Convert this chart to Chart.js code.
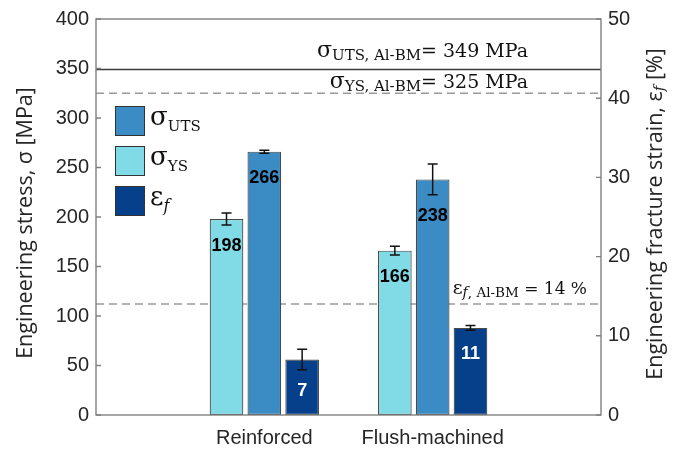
<!DOCTYPE html>
<html>
<head>
<meta charset="utf-8">
<script src="https://cdn.jsdelivr.net/npm/chart.js@4.4.1/dist/chart.umd.min.js"></script>
<style>
  html, body { margin: 0; padding: 0; background: #fff; }
  #wrap { width: 686px; height: 451px; }
</style>
</head>
<body>
<div id="wrap"><canvas id="c"></canvas></div>
<script>
// Joint types on the x axis
const categories = ['Reinforced', 'Flush-machined'];

// Yield strength σYS [MPa] with its scatter
const yieldStress = [198, 166];
const yieldErr = [6, 4.5];

// Ultimate tensile strength σUTS [MPa] with its scatter
const ultimateStress = [266, 238];
const ultimateErr = [1.5, 15.5];

// Fracture strain εf [%] with its scatter (right axis)
const fractureStrain = [7, 11];
const fractureErr = [1.3, 0.3];

// Axis ticks
const stressTicks = [0, 50, 100, 150, 200, 250, 300, 350, 400];
const strainTicks = [0, 10, 20, 30, 40, 50];

// Base-metal reference levels
const bmUTS = 349;   // MPa
const bmYS = 325;    // MPa
const bmStrain = 14; // %

const COL_YS = '#80dbe6';
const COL_UTS = '#3b8bc4';
const COL_EF = '#06408a';
const AXIS_COL = '#808080';
const TEXT_COL = '#262626';
const SANS = '"Liberation Sans", Arial, sans-serif';
const SERIF = '"DejaVu Serif", serif';
const TITLE = '"Open Sans", sans-serif';

const points = arr => arr.map((v, i) => ({ x: i + 1, y: v }));

// Draws a run of differently-styled text pieces; returns total width.
function textRun(ctx, parts, x, y, draw) {
  let w = 0;
  for (const p of parts) {
    ctx.font = p.f;
    if (draw) ctx.fillText(p.t, x + w, y + (p.dy || 0));
    w += ctx.measureText(p.t).width;
  }
  return w;
}

const decor = {
  id: 'decor',
  beforeDatasetsDraw(chart) {
    const { ctx, chartArea: a, scales } = chart;
    const y = scales.y;
    ctx.save();
    // base-metal reference lines
    ctx.lineWidth = 1.5;
    ctx.strokeStyle = '#9a9a9a';
    ctx.setLineDash([8, 5]);
    const yEf = scales.y1.getPixelForValue(bmStrain);
    const yYs = y.getPixelForValue(bmYS);
    ctx.beginPath();
    ctx.moveTo(a.left, yEf); ctx.lineTo(a.right, yEf);
    ctx.moveTo(a.left, yYs); ctx.lineTo(a.right, yYs);
    ctx.stroke();
    ctx.setLineDash([]);
    ctx.strokeStyle = '#3a3a3a';
    const yUts = y.getPixelForValue(bmUTS);
    ctx.beginPath();
    ctx.moveTo(a.left, yUts); ctx.lineTo(a.right, yUts);
    ctx.stroke();
    ctx.restore();
  },
  afterDatasetsDraw(chart) {
    const { ctx, chartArea: a, scales } = chart;
    ctx.save();

    // error bars
    const sets = [
      { err: yieldErr, vals: yieldStress, scale: scales.y },
      { err: ultimateErr, vals: ultimateStress, scale: scales.y },
      { err: fractureErr, vals: fractureStrain, scale: scales.y1 }
    ];
    ctx.strokeStyle = '#111';
    ctx.lineWidth = 1.5;
    const lowPx = [];
    sets.forEach((s, di) => {
      const meta = chart.getDatasetMeta(di);
      lowPx[di] = [];
      meta.data.forEach((bar, j) => {
        const hi = s.scale.getPixelForValue(s.vals[j] + s.err[j]);
        const lo = s.scale.getPixelForValue(s.vals[j] - s.err[j]);
        lowPx[di][j] = lo;
        ctx.beginPath();
        ctx.moveTo(bar.x, hi); ctx.lineTo(bar.x, lo);
        ctx.moveTo(bar.x - 5, hi); ctx.lineTo(bar.x + 5, hi);
        ctx.moveTo(bar.x - 5, lo); ctx.lineTo(bar.x + 5, lo);
        ctx.stroke();
      });
    });

    // value labels inside the bars
    ctx.font = 'bold 18px ' + SANS;
    ctx.textAlign = 'center';
    ctx.textBaseline = 'middle';
    sets.forEach((s, di) => {
      const meta = chart.getDatasetMeta(di);
      meta.data.forEach((bar, j) => {
        const cy = Math.max(bar.y + 26, lowPx[di][j] + 21);
        ctx.fillStyle = di === 2 ? '#ffffff' : '#000000';
        ctx.fillText(String(s.vals[j]), bar.x, cy);
      });
    });

    // frame around the plot area with inward ticks
    ctx.strokeStyle = AXIS_COL;
    ctx.lineWidth = 1.4;
    ctx.strokeRect(a.left, a.top, a.right - a.left, a.bottom - a.top);
    ctx.beginPath();
    stressTicks.forEach(v => {
      const py = scales.y.getPixelForValue(v);
      ctx.moveTo(a.left, py); ctx.lineTo(a.left + 5, py);
    });
    strainTicks.forEach(v => {
      const py = scales.y1.getPixelForValue(v);
      ctx.moveTo(a.right, py); ctx.lineTo(a.right - 5, py);
    });
    ctx.stroke();

    // base-metal annotations
    ctx.textAlign = 'left';
    ctx.textBaseline = 'alphabetic';
    ctx.fillStyle = '#111';
    const annots = [
      { parts: [
          { t: 'σ', f: '22px ' + SERIF },
          { t: 'UTS, Al-BM', f: '15px ' + SERIF, dy: 3 },
          { t: '= ' + bmUTS + ' MPa', f: '19px ' + SERIF }],
        right: a.right - 73, base: scales.y.getPixelForValue(bmUTS) - 12 },
      { parts: [
          { t: 'σ', f: '22px ' + SERIF },
          { t: 'YS, Al-BM', f: '15px ' + SERIF, dy: 3 },
          { t: '= ' + bmYS + ' MPa', f: '19px ' + SERIF }],
        right: a.right - 73, base: scales.y.getPixelForValue(bmYS) - 5 },
      { parts: [
          { t: 'ε', f: '19px ' + SERIF },
          { t: 'f', f: 'italic 14px ' + SERIF, dy: 3 },
          { t: ', Al-BM', f: '13.5px ' + SERIF, dy: 3 },
          { t: ' = ' + bmStrain + ' %', f: '17px ' + SERIF }],
        right: a.right - 14, base: scales.y1.getPixelForValue(bmStrain) - 10 }
    ];
    annots.forEach(an => {
      const w = textRun(ctx, an.parts, 0, 0, false);
      textRun(ctx, an.parts, an.right - w, an.base, true);
    });

    // legend
    const legend = [
      { color: COL_UTS, parts: [{ t: 'σ', f: '26px ' + SERIF }, { t: 'UTS', f: '15px ' + SERIF, dy: 6 }] },
      { color: COL_YS, parts: [{ t: 'σ', f: '26px ' + SERIF }, { t: 'YS', f: '15px ' + SERIF, dy: 6 }] },
      { color: COL_EF, parts: [{ t: 'ε', f: '26px ' + SERIF }, { t: 'f', f: 'italic 16px ' + SERIF, dy: 6 }] }
    ];
    legend.forEach((it, k) => {
      const top = a.top + 87 + k * 40;
      ctx.fillStyle = it.color;
      ctx.fillRect(a.left + 19, top, 30, 30);
      ctx.strokeStyle = '#333';
      ctx.lineWidth = 1;
      ctx.strokeRect(a.left + 19.5, top + 0.5, 29, 29);
      ctx.fillStyle = '#111';
      textRun(ctx, it.parts, a.left + 54, top + 19, true);
    });

    // axis titles
    ctx.fillStyle = TEXT_COL;
    const leftTitle = [{ t: 'Engineering stress, σ [MPa]', f: '21.5px ' + TITLE }];
    const rightTitle = [
      { t: 'Engineering fracture strain, ε', f: '21.5px ' + TITLE },
      { t: 'f', f: 'italic 15px ' + SERIF, dy: 4 },
      { t: ' [%]', f: '21.5px ' + TITLE }
    ];
    ctx.textBaseline = 'middle';
    [[leftTitle, 26, 223], [rightTitle, 656, 214]].forEach(([parts, cx, cy]) => {
      const w = textRun(ctx, parts, 0, 0, false);
      ctx.save();
      ctx.translate(cx, cy);
      ctx.rotate(-Math.PI / 2);
      textRun(ctx, parts, -w / 2, 0, true);
      ctx.restore();
    });

    ctx.restore();
  }
};

const tickFont = { family: SANS, size: 20 };

new Chart(document.getElementById('c'), {
  type: 'bar',
  data: {
    datasets: [
      { label: 'σYS', data: points(yieldStress), backgroundColor: COL_YS, yAxisID: 'y' },
      { label: 'σUTS', data: points(ultimateStress), backgroundColor: COL_UTS, yAxisID: 'y' },
      { label: 'εf', data: points(fractureStrain), backgroundColor: COL_EF, yAxisID: 'y1' }
    ].map(d => Object.assign(d, {
      borderColor: '#4a4a4a',
      borderWidth: 1.2,
      borderSkipped: false,
      categoryPercentage: 0.674,
      barPercentage: 0.89
    }))
  },
  options: {
    responsive: true,
    maintainAspectRatio: false,
    animation: false,
    devicePixelRatio: 1,
    layout: { padding: { top: 18, left: 0, right: 0, bottom: 0 } },
    plugins: { legend: { display: false }, tooltip: { enabled: false } },
    scales: {
      x: {
        type: 'linear',
        offset: false,
        min: 0,
        max: categories.length + 1,
        grid: { display: false, drawTicks: false, offset: false },
        border: { display: false },
        afterBuildTicks: s => { s.ticks = categories.map((c, i) => ({ value: i + 1 })); },
        afterFit: s => { s.height = 36; },
        ticks: {
          font: tickFont, color: TEXT_COL, padding: 11, maxRotation: 0, autoSkip: false,
          callback: v => categories[v - 1] || ''
        }
      },
      y: {
        position: 'left',
        min: 0, max: 400,
        grid: { display: false, drawTicks: false },
        border: { display: false },
        afterBuildTicks: s => { s.ticks = stressTicks.map(v => ({ value: v })); },
        afterFit: s => { s.width = 96; },
        ticks: { font: tickFont, color: TEXT_COL, padding: 7 }
      },
      y1: {
        position: 'right',
        min: 0, max: 50,
        grid: { display: false, drawTicks: false },
        border: { display: false },
        afterBuildTicks: s => { s.ticks = strainTicks.map(v => ({ value: v })); },
        afterFit: s => { s.width = 85; },
        ticks: { font: tickFont, color: TEXT_COL, padding: 7 }
      }
    }
  },
  plugins: [decor]
});
</script>
</body>
</html>
